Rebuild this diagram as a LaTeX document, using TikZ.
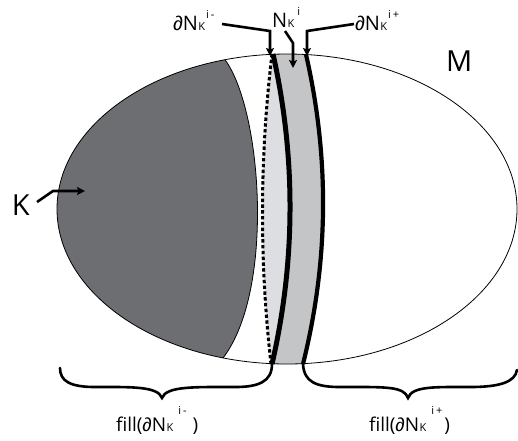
\documentclass[tikz,border=0pt]{standalone}
\usepackage{fontspec}
\setmainfont{Open Sans}
\newfontfamily\pdfont{Liberation Sans}
\usetikzlibrary{arrows.meta}
\definecolor{kgray}{RGB}{109,110,114}
\definecolor{lgray}{RGB}{221,222,225}
\definecolor{mgray}{RGB}{196,197,199}
\newcommand\bigsz{\fontsize{20}{20}\selectfont}
\newcommand\smsz{\fontsize{11}{11}\selectfont}
% #1 = superscript, #2 = raise, #3 = gap before superscript
\newcommand\NK[3]{{\pdfont ∂}N\kern0.5pt{\smsz K}\kern#3\raisebox{#2}{\smsz #1}}
\tikzset{
  thinline/.style={line width=0.8pt},
  pointer/.style={line width=2.6pt, -{Stealth[length=8pt,width=8pt,inset=1.5pt]}},
  bracestyle/.style={line width=2.6pt, line cap=round},
  lbl/.style={inner sep=0pt, outer sep=0pt, anchor=base west}
}
\begin{document}
\begin{tikzpicture}[x=1pt,y=-1pt]
\useasboundingbox (0,0) rectangle (518,440);
\coordinate (td) at (272,54);   \coordinate (bd) at (271,364);
\coordinate (t1) at (273,54);   \coordinate (b1) at (272,364);
\coordinate (t2) at (306,54.5); \coordinate (b2) at (303,364);
\coordinate (kt) at (225,59.7); \coordinate (kb) at (223,358);
% filled regions, clipped to M
\begin{scope}
  \clip (287,209) ellipse [x radius=230pt, y radius=155pt];
  \fill[lgray] (272,40) -- (td) .. controls (259.7,157) and (259.3,261) .. (bd)
     -- (271,380) -- (272,380) -- (b1) .. controls (295.7,261) and (296,157) .. (t1)
     -- (273,40) -- cycle;
  \fill[mgray] (273,40) -- (t1) .. controls (296,157) and (295.7,261) .. (b1)
     -- (272,380) -- (303,380) -- (b2) .. controls (328.7,261) and (329.7,158) .. (t2)
     -- (306,40) -- cycle;
  \fill[kgray] (225,40) -- (kt) .. controls (262,110) and (275,290) .. (kb)
     -- (223,380) -- (40,380) -- (40,40) -- cycle;
\end{scope}
\draw[thinline] (kt) .. controls (262,110) and (275,290) .. (kb);
\draw[line width=3pt, dash pattern=on 3.4pt off 2.4pt] (td) .. controls (259.7,157) and (259.3,261) .. (bd);
\draw[line width=5pt] (t1) .. controls (296,157) and (295.7,261) .. (b1);
\draw[line width=4.2pt] (t2) .. controls (329.7,158) and (328.7,261) .. (b2);
\draw[thinline] (287,209) ellipse [x radius=230pt, y radius=155pt];
% braces
\coordinate (tipL) at (162,398);
\coordinate (endL) at (60,368);
\coordinate (tipR) at (408,398);
\coordinate (endR) at (517,370);
\draw[bracestyle] (b1) .. controls (272,382) and (258,387) .. (235,387)
   .. controls (195,387) and (166,386) .. (tipL)
   .. controls (158,386) and (130,387) .. (95,387)
   .. controls (70,387) and (60,381) .. (endL);
\draw[bracestyle] (b2) .. controls (304,382) and (316,387) .. (340,387)
   .. controls (385,387) and (404,386) .. (tipR)
   .. controls (412,386) and (435,387) .. (470,387)
   .. controls (500,387) and (515,382) .. (endR);
% labels
\node[lbl] (lm) at (173,30) {\bigsz\NK{i\,-}{12pt}{1pt}};
\node[lbl] (ln) at (272,27) {\bigsz N\kern0.5pt{\smsz K}\kern3pt\raisebox{12pt}{\smsz i}};
\node[lbl] (lp) at (355,30) {\bigsz\NK{i\,+}{12pt}{1pt}};
\node[lbl] (kl) at (12,215) {\fontsize{29}{29}\selectfont K};
\node[lbl] (ml) at (446,71) {\fontsize{29}{29}\selectfont M};
\node[lbl] (fl) at (116,431) {\fontsize{19}{19}\selectfont fill(\NK{i\,-}{17pt}{5pt}\kern6pt)};
\node[lbl] (fr) at (369,431) {\fontsize{19}{19}\selectfont fill(\NK{i\,+}{17pt}{5pt}\kern2pt)};
% pointers
\coordinate (sm) at (222,24); \coordinate (am) at (270,56);
\coordinate (sn) at (285,31); \coordinate (an) at (293,68);
\coordinate (sp) at (354,24); \coordinate (ap) at (307,56);
\coordinate (sk) at (37,202); \coordinate (ak) at (85,191);
\draw[pointer] (sm) -- (270,31) -- (am);
\draw[pointer] (sn) -- (293,43) -- (an);
\draw[pointer] (sp) -- (307,31) -- (ap);
\draw[pointer] (sk) -- (53,191) -- (ak);
\end{tikzpicture}
\end{document}
